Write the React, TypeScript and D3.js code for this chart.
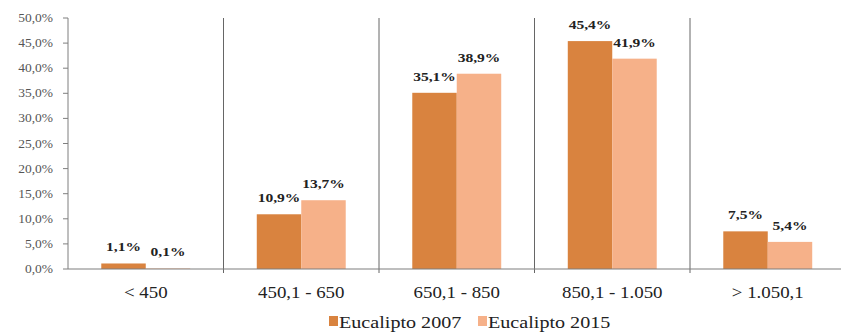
import React from "react";
import * as d3 from "d3";

const categories = ["< 450", "450,1 - 650", "650,1 - 850", "850,1 - 1.050", "> 1.050,1"];
const seriesNames = ["Eucalipto 2007", "Eucalipto 2015"];
const values2007 = [1.1, 10.9, 35.1, 45.4, 7.5];
const values2015 = [0.1, 13.7, 38.9, 41.9, 5.4];
const yTicks = [0, 5, 10, 15, 20, 25, 30, 35, 40, 45, 50];

const W = 841;
const H = 332;
const colors = ["#D9833F", "#F6B189"];
const serif = "'Liberation Serif', 'Times New Roman', serif";

const fmt = (v: number) => v.toFixed(1).replace(".", ",") + "%";

type TxtProps = {
  x: number;
  y: number;
  size: number;
  sx?: number;
  anchor?: "start" | "middle" | "end";
  weight?: string;
  fill?: string;
  children: React.ReactNode;
};

// Serif text with a slight horizontal widening
function Txt({ x, y, size, sx = 1.15, anchor = "middle", weight = "normal", fill = "#222", children }: TxtProps) {
  return (
    <text
      transform={`translate(${x},${y}) scale(${sx},1)`}
      fontFamily={serif}
      fontSize={size}
      fontWeight={weight}
      textAnchor={anchor}
      fill={fill}
    >
      {children}
    </text>
  );
}

export default function App() {
  const left = 68;
  const top = 18;
  const bottom = 269;
  const bandW = 155.5;

  const y = d3.scaleLinear().domain([0, 50]).range([bottom, top]);
  const x0 = d3
    .scaleBand<string>()
    .domain(categories)
    .range([left, left + bandW * categories.length])
    .padding(0);
  const bw = x0.bandwidth();
  const group = bw * 0.572;
  const x1 = d3
    .scaleBand<string>()
    .domain(seriesNames)
    .range([(bw - group) / 2, (bw + group) / 2])
    .padding(0);

  const data = categories.map((c, i) => ({ c, vals: [values2007[i], values2015[i]] }));
  const axisColor = "#7f7f7f";

  return (
    <svg
      width={W}
      height={H}
      style={{ position: "absolute", left: 0, top: 0, background: "#fff" }}
    >
      {/* y axis ticks and labels */}
      {yTicks.map((t) => (
        <g key={t}>
          <line x1={left - 5} x2={left} y1={y(t)} y2={y(t)} stroke={axisColor} strokeWidth={1} />
          <Txt x={left - 15} y={y(t) + 4} size={12.5} sx={1.08} anchor="end" fill="#555">
            {fmt(t)}
          </Txt>
        </g>
      ))}
      <line x1={left} x2={left} y1={top} y2={bottom} stroke={axisColor} strokeWidth={1} />

      {/* category separators */}
      {categories.slice(1).map((c) => (
        <line
          key={c}
          x1={x0(c)!}
          x2={x0(c)!}
          y1={top}
          y2={bottom + 4}
          stroke="#666"
          strokeWidth={1}
        />
      ))}

      {/* bars */}
      {data.map((d) =>
        d.vals.map((v, s) => {
          const bx = x0(d.c)! + x1(seriesNames[s])!;
          return (
            <rect
              key={d.c + s}
              x={bx}
              y={y(v)}
              width={x1.bandwidth()}
              height={bottom - y(v)}
              fill={colors[s]}
            />
          );
        })
      )}

      {/* baseline */}
      <line x1={left} x2={W} y1={bottom} y2={bottom} stroke={axisColor} strokeWidth={1.2} />

      {/* value labels */}
      {data.map((d) =>
        d.vals.map((v, s) => {
          const cx = x0(d.c)! + x1(seriesNames[s])! + x1.bandwidth() / 2;
          return (
            <Txt key={"l" + d.c + s} x={cx} y={y(v) - 12} size={13.5} sx={1.15} weight="bold" fill="#222">
              {fmt(v)}
            </Txt>
          );
        })
      )}

      {/* category labels */}
      {categories.map((c) => (
        <Txt key={"c" + c} x={x0(c)! + bw / 2} y={298} size={16} sx={1.18} fill="#222">
          {c}
        </Txt>
      ))}

      {/* legend */}
      {seriesNames.map((n, i) => {
        const lx = 329 + i * 149;
        return (
          <g key={n}>
            <rect x={lx} y={316} width={9} height={10} fill={colors[i]} />
            <Txt x={lx + 10} y={328} size={16.5} sx={1.22} anchor="start" fill="#222">
              {n}
            </Txt>
          </g>
        );
      })}
    </svg>
  );
}
